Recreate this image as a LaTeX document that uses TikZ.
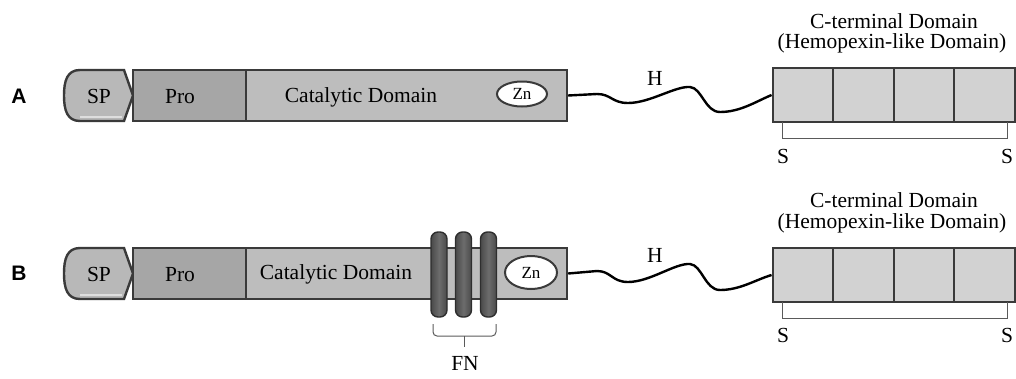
\documentclass[tikz,border=0pt]{standalone}
\usepackage{fontspec}
\usetikzlibrary{shapes.geometric}
\setmainfont{Liberation Serif}
\newfontfamily\rowfont{Liberation Sans}
\definecolor{bord}{HTML}{3A3A3A}
\definecolor{spfill}{HTML}{B8B8B8}
\definecolor{profill}{HTML}{A6A6A6}
\definecolor{catfill}{HTML}{BDBDBD}
\definecolor{cfill}{HTML}{D2D2D2}
\definecolor{ringedge}{HTML}{2E2E2E}
\definecolor{ringdark}{HTML}{4A4A4A}
\definecolor{ringmid}{HTML}{6C6C6C}
\definecolor{thinline}{HTML}{5A5A5A}
\begin{document}
\begin{tikzpicture}[x=1pt,y=-1pt,
  edge/.style={draw=bord, line width=2.4pt},
  seg/.style={edge, rectangle, inner sep=0pt, minimum height=51pt},
  cbox/.style={edge, fill=cfill, rectangle, inner sep=0pt,
    minimum width=60.5pt, minimum height=54pt},
  zn/.style={ellipse, draw=bord, line width=2pt, fill=white, inner sep=0pt,
    font=\fontsize{17}{18}\selectfont},
  ring/.style={rectangle, rounded corners=7pt, draw=ringedge, line width=1.4pt,
    left color=ringdark, right color=ringdark, middle color=ringmid,
    minimum width=16pt, minimum height=85pt, inner sep=0pt},
  txt/.style={font=\fontsize{21.5}{23}\selectfont, inner sep=0pt, anchor=base},
  rowlbl/.style={font=\rowfont\bfseries\fontsize{21}{22}\selectfont, inner sep=0pt, anchor=base},
  wave/.style={draw=black, line width=2.4pt},
  brk/.style={draw=thinline, line width=1pt},
  hilite/.style={draw=white, opacity=0.55, line width=2pt}
]
\useasboundingbox (0,0) rectangle (1016,378);

% ---------------- row A ----------------
\node[rowlbl] (labA) at (19,103) {A};

\filldraw[edge, fill=spfill]
  (124,70) -- (133,95.5) -- (124,121) -- (80,121)
  .. controls (67,121) and (64,110) .. (64,95.5)
  .. controls (64,81) and (67,70) .. (80,70) -- cycle;
\draw[hilite] (80,117) -- (122,117);
\node[txt] (spA) at (99,103) {SP};

\node[seg, fill=profill, minimum width=113pt] (proA) at (189.5,95.5) {};
\node[seg, fill=catfill, minimum width=321pt] (catA) at (406.5,95.5) {};
\draw[hilite] ([shift={(2,-4)}]proA.north west) -- ([shift={(-2,-4)}]catA.north east);
\node[txt] (proTA) at (180,103) {Pro};
\node[txt] (catTA) at (361,102) {Catalytic Domain};
\node[zn, minimum width=50pt, minimum height=25pt] (znA) at (522,94) {Zn};

\foreach \i/\x in {1/803,2/863.5,3/924,4/984.5}{
  \node[cbox] (ctA\i) at (\x,95) {};
  \draw[hilite] ([shift={(3,-4)}]ctA\i.north west) -- ([shift={(-3,-4)}]ctA\i.north east);
}
\node[txt] (ctTA1) at (894,28) {C-terminal Domain};
\node[txt] (ctTA2) at (892,48) {(Hemopexin-like Domain)};

\draw[wave] (catA.east) -- (597,94)
  .. controls (611,94) and (612,103) .. (628,103)
  .. controls (650,103) and (675,86) .. (690,87)
  .. controls (702,88) and (705,112) .. (720,112)
  .. controls (740,112) and (755,102) .. (ctA1.west);
\node[txt] (hA) at (655,85) {H};

\draw[brk] (782,122) -- (782,138) -- (1007,138) -- (1007,122);
\node[txt] (sA1) at (783,163) {S};
\node[txt] (sA2) at (1007,163) {S};

% ---------------- row B ----------------
\node[rowlbl] (labB) at (19,280) {B};

\filldraw[edge, fill=spfill]
  (124,248) -- (133,273.5) -- (124,299) -- (80,299)
  .. controls (67,299) and (64,288) .. (64,273.5)
  .. controls (64,259) and (67,248) .. (80,248) -- cycle;
\draw[hilite] (80,295) -- (122,295);
\node[txt] (spB) at (99,281) {SP};

\node[seg, fill=profill, minimum width=113pt] (proB) at (189.5,273.5) {};
\node[seg, fill=catfill, minimum width=321pt] (catB) at (406.5,273.5) {};
\draw[hilite] ([shift={(2,-4)}]proB.north west) -- ([shift={(-2,-4)}]catB.north east);
\node[txt] (proTB) at (180,281) {Pro};
\node[txt] (catTB) at (336,279) {Catalytic Domain};
\node[zn, minimum width=52pt, minimum height=33pt] (znB) at (531,272.5) {Zn};

\node[ring] (fn1) at (439,274.5) {};
\node[ring] (fn2) at (463.5,274.5) {};
\node[ring] (fn3) at (488.5,274.5) {};

\draw[brk, rounded corners=4pt] (433,324) -- (433,336) -- (496,336) -- (496,324);
\draw[brk] (464.5,336) -- (464.5,347);
\node[txt] (fnT) at (465,370) {FN};

\foreach \i/\x in {1/803,2/863.5,3/924,4/984.5}{
  \node[cbox] (ctB\i) at (\x,275) {};
  \draw[hilite] ([shift={(3,-4)}]ctB\i.north west) -- ([shift={(-3,-4)}]ctB\i.north east);
}
\node[txt] (ctTB1) at (894,207) {C-terminal Domain};
\node[txt] (ctTB2) at (892,228) {(Hemopexin-like Domain)};

\draw[wave] (catB.east) -- (597,271)
  .. controls (611,271) and (612,282) .. (628,282)
  .. controls (650,282) and (675,263) .. (690,264)
  .. controls (702,265) and (705,290) .. (720,290)
  .. controls (740,290) and (755,280) .. (ctB1.west);
\node[txt] (hB) at (655,262) {H};

\draw[brk] (782,302) -- (782,318) -- (1007,318) -- (1007,302);
\node[txt] (sB1) at (783,342) {S};
\node[txt] (sB2) at (1007,342) {S};
\end{tikzpicture}
\end{document}
